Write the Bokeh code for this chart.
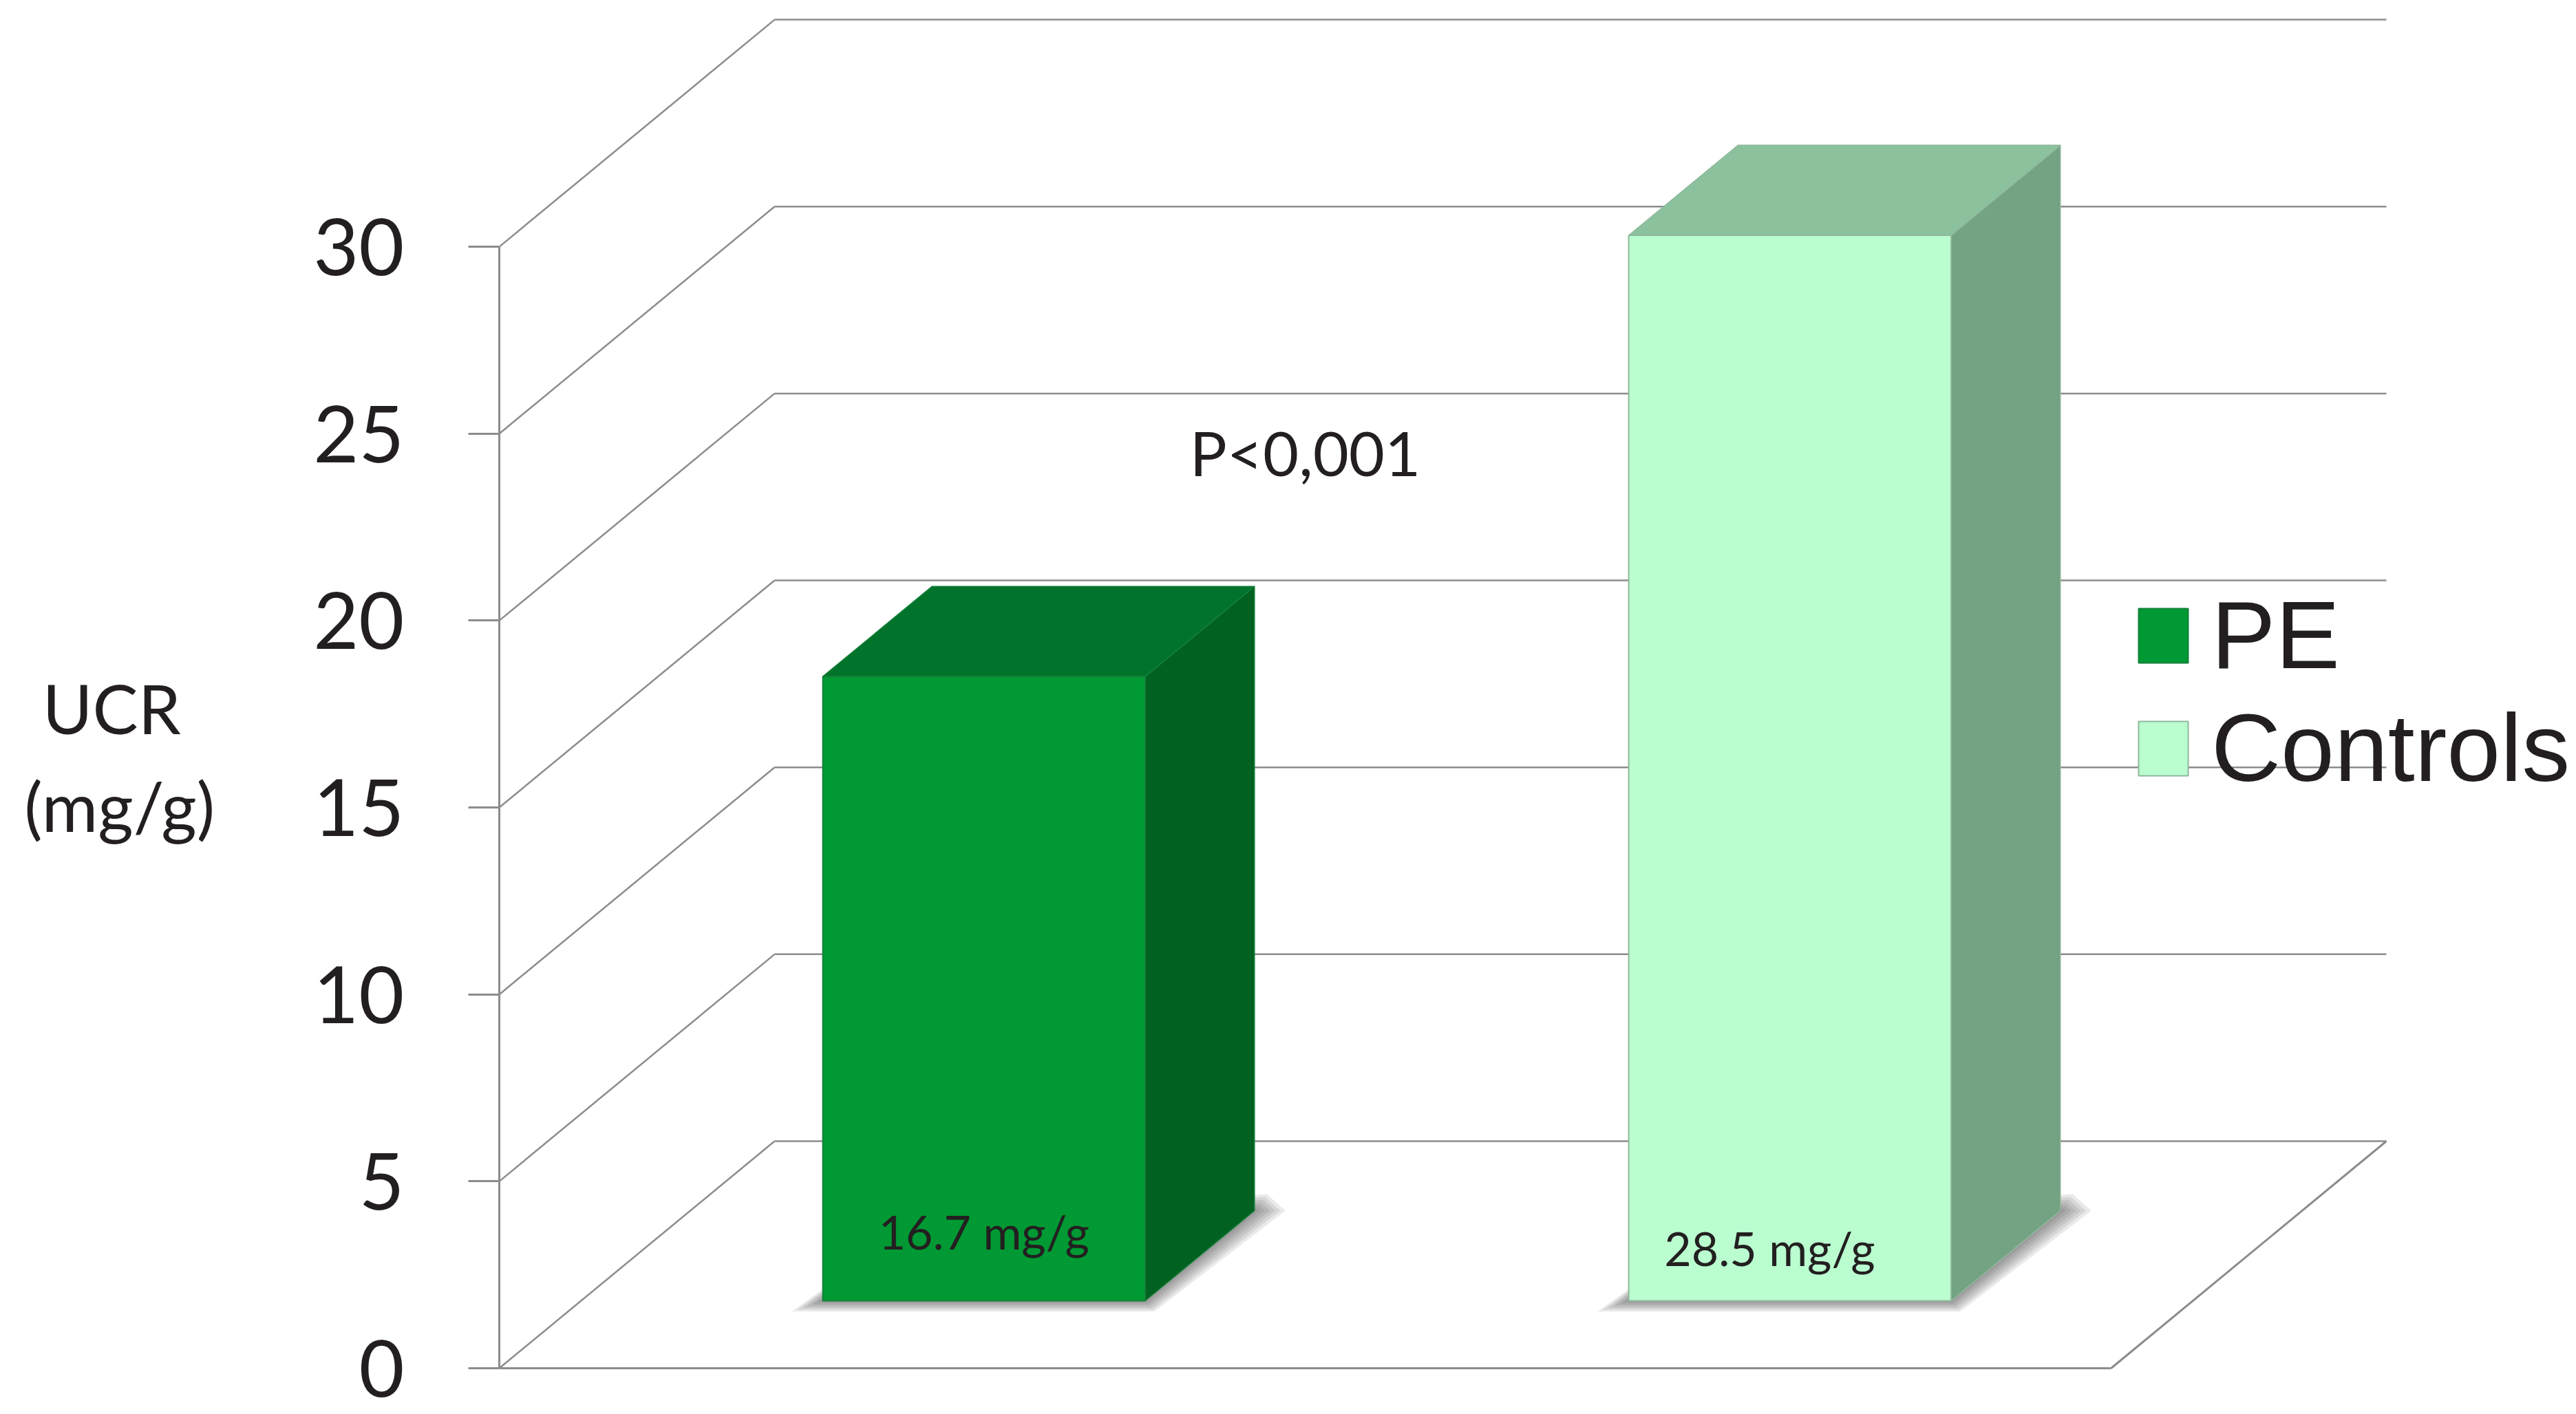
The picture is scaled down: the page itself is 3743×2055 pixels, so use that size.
from bokeh.plotting import figure
from bokeh.models import Range1d, FixedTicker, ColumnDataSource, Legend, LegendItem, Label
from bokeh.embed import file_html
from bokeh.resources import INLINE
from bokeh.core.properties import value

# ---------------- data ----------------
categories = ["PE", "Controls"]
ucr_values = [16.7, 28.5]
value_labels = ["16.7 mg/g", "28.5 mg/g"]
y_ticks = [0, 5, 10, 15, 20, 25, 30]
p_value_text = "P<0,001"
y_title = "\nUCR\u2002\n(mg/g)"

# ---------------- style ----------------
front_colors = ["#009933", "#BAFED0"]
top_colors = ["#01732A", "#8BC29D"]
side_colors = ["#006121", "#74A383"]
edge_colors = ["#15803A", "#90B89C"]
GRID = "#8C8C8C"
TXT = "#231F20"

W, H = 3743, 2055
LEFT = 725            # frame left (axis line)
PX_X = 1171.0         # px per category unit
PX_Y = 54.33          # px per mg/g
ZERO_PX = 1988        # px row of value 0

DX = 400 / PX_X       # depth vector (x, data units)
DY = 330 / PX_Y       # depth vector (y, data units)
D0, D1 = 0.297, 0.694 # bar depth span (fraction of floor depth)
BAR_W = 0.40
N = len(categories)
FLOOR_W = float(N)

p = figure(width=W, height=H,
           x_range=Range1d(0, (W - LEFT) / PX_X),
           y_range=Range1d(-(H - ZERO_PX) / PX_Y, ZERO_PX / PX_Y),
           output_backend="svg", toolbar_location=None,
           x_axis_location=None, y_axis_location="left",
           min_border_left=LEFT, min_border_right=0,
           min_border_top=0, min_border_bottom=0,
           outline_line_color=None, background_fill_color="white")
p.grid.visible = False

ax = p.yaxis[0]
ax.ticker = FixedTicker(ticks=y_ticks)
ax.bounds = (min(y_ticks), max(y_ticks))
ax.axis_line_color = GRID
ax.axis_line_width = 3
ax.major_tick_out = 45
ax.major_tick_in = 0
ax.major_tick_line_color = GRID
ax.major_tick_line_width = 3
ax.minor_tick_line_color = None
ax.major_label_text_font = "Lato"
ax.major_label_text_font_size = "114px"
ax.major_label_text_color = TXT
ax.major_label_standoff = 93
ax.axis_label = y_title
ax.axis_label_orientation = "horizontal"
ax.axis_label_text_font = "Lato"
ax.axis_label_text_font_style = "normal"
ax.axis_label_text_font_size = "99px"
ax.axis_label_text_color = TXT
ax.axis_label_text_align = "center"
ax.axis_label_standoff = 140

# ---------------- walls / floor ----------------
sx0, sy0, sx1, sy1 = [], [], [], []
for v in y_ticks:
    sx0.append(0.0); sy0.append(v); sx1.append(DX); sy1.append(v + DY)
    sx0.append(DX); sy0.append(v + DY); sx1.append(FLOOR_W + DX); sy1.append(v + DY)
p.segment(sx0, sy0, sx1, sy1, line_color=GRID, line_width=2.5)
p.segment([0.0, FLOOR_W], [0, 0], [FLOOR_W, FLOOR_W + DX], [0, DY],
          line_color=GRID, line_width=3)

# ---------------- bars ----------------
centers = [i + 0.5 for i in range(N)]
dd = D1 - D0
L = [c - BAR_W / 2 + D0 * DX for c in centers]
R = [c + BAR_W / 2 + D0 * DX for c in centers]
B = [D0 * DY for _ in centers]
T = [b + v for b, v in zip(B, ucr_values)]

# soft drop shadows around the bar footprint
for k in [6, 5, 4, 3, 2, 1]:
    e = 7.5 * k                      # px horizontal spread
    ex = e / PX_X
    eyb = (2.6 * k) / PX_Y           # spread below the front edge
    eyt = (4.0 * k) / PX_Y           # spread above the back-right corner
    xs, ys = [], []
    for i in range(N):
        xs.append([L[i] - ex, R[i] + ex * 0.3, R[i] + dd * DX + ex, R[i] + dd * DX + ex * 0.4,
                   L[i] + dd * DX])
        ys.append([B[i] - eyb, B[i] - eyb, B[i] + dd * DY, B[i] + dd * DY + eyt,
                   B[i] + dd * DY])
    p.patches(xs, ys, fill_color="#3C3C3C", fill_alpha=0.11, line_color=None)

side_xs = [[R[i], R[i] + dd * DX, R[i] + dd * DX, R[i]] for i in range(N)]
side_ys = [[B[i], B[i] + dd * DY, T[i] + dd * DY, T[i]] for i in range(N)]
p.patches(side_xs, side_ys, fill_color=side_colors, line_color=edge_colors, line_width=1.5)

top_xs = [[L[i], R[i], R[i] + dd * DX, L[i] + dd * DX] for i in range(N)]
top_ys = [[T[i], T[i], T[i] + dd * DY, T[i] + dd * DY] for i in range(N)]
p.patches(top_xs, top_ys, fill_color=top_colors, line_color=edge_colors, line_width=1.5)

src = ColumnDataSource(dict(left=L, right=R, bottom=B, top=T,
                            fill=front_colors, edge=edge_colors, cat=categories))
front = p.quad(left="left", right="right", bottom="bottom", top="top", source=src,
               fill_color="fill", line_color="edge", line_width=2)

# value labels inside bars
lab_dx = [0.0, -0.025]
lab_y = [3.67, 3.22]
p.text([L[i] + BAR_W / 2 + lab_dx[i] for i in range(N)], lab_y, text=value_labels,
       text_font=value("Lato"), text_font_size="68px", text_color=TXT,
       text_align="center", text_baseline="alphabetic")

# p-value
p.add_layout(Label(x=FLOOR_W / 2, y=24.5, text=p_value_text, text_font="Lato",
                   text_font_size="90px", text_color=TXT, text_align="center",
                   text_baseline="alphabetic"))

legend = Legend(items=[LegendItem(label=categories[i], renderers=[front], index=i) for i in range(N)],
                location=(2373, 887), orientation="vertical",
                background_fill_alpha=0, border_line_color=None,
                padding=0, margin=0, spacing=2,
                glyph_width=90, glyph_height=99, label_standoff=25,
                label_text_font="Liberation Sans", label_text_font_size="140px",
                label_text_color=TXT)
p.add_layout(legend)

open("out.html", "w").write(file_html(p, INLINE))
